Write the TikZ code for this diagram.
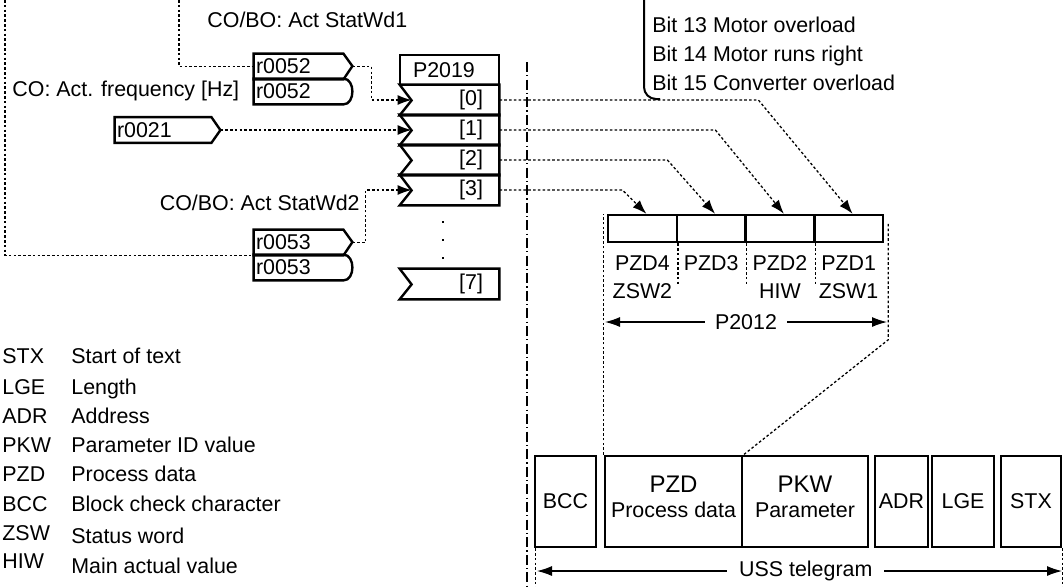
\documentclass[tikz,border=0pt]{standalone}
\usepackage{fontspec}
\setmainfont{Liberation Sans}
\usetikzlibrary{arrows.meta}

\begin{document}
\begin{tikzpicture}[x=0.5pt,y=-0.5pt,
	every node/.style={font=\fontsize{10.7}{12.8}\selectfont,inner sep=0pt},
	frame/.style={line width=1.2pt,line join=miter},
	dots/.style={line width=0.65pt,dash pattern=on 1.3pt off 1.1pt},
	dashdot/.style={line width=0.6pt,dash pattern=on 5pt off 1.6pt on 0.6pt off 1.6pt},
	sig/.style={dots,-{Latex[length=7pt,width=5pt]}},
	dim/.style={line width=0.6pt,{Latex[length=7.5pt,width=5pt]}-{Latex[length=7.5pt,width=5pt]}},
	rbox/.style={minimum width=44.5pt,minimum height=12.5pt,inner xsep=1pt,text width=42.5pt,align=left},
	hdr/.style={draw,frame,minimum width=49.5pt,minimum height=15pt,text width=36.5pt,align=left},
	row/.style={minimum width=49.5pt,minimum height=15pt,text width=33.5pt,align=right},
	cell/.style={draw,frame,minimum width=34.4pt,minimum height=13.5pt},
	tbox/.style={minimum height=45.5pt,align=center}]
	\useasboundingbox (0,0) rectangle (1064,586);

	% signal sources
	\node[rbox] (ra) at (298.5,66.5) {r0052};
	\node[rbox] (rb) at (298.5,91.5) {r0052};
	\node[rbox,minimum width=48pt,text width=46pt] (rf) at (163,130) {r0021};
	\node[rbox] (rc) at (298.5,242.5) {r0053};
	\node[rbox] (rd) at (298.5,267.5) {r0053};
	\draw[frame] (ra.north west) -- (ra.north east) -- ++(9,12.5) -- (ra.south east) -- (ra.south west) -- cycle;
	\draw[frame] (rb.north west) -- (rb.north east) .. controls +(12,0) and +(12,0) .. (rb.south east) -- (rb.south west) -- cycle;
	\draw[frame] (rf.north west) -- (rf.north east) -- ++(9,13) -- (rf.south east) -- (rf.south west) -- cycle;
	\draw[frame] (rc.north west) -- (rc.north east) -- ++(9,12.5) -- (rc.south east) -- (rc.south west) -- cycle;
	\draw[frame] (rd.north west) -- (rd.north east) .. controls +(12,0) and +(12,0) .. (rd.south east) -- (rd.south west) -- cycle;

	\node[anchor=base west] (lw1) at (207,27) {CO/BO: Act StatWd1};
	\node[anchor=base west] (lfr) at (12,96) {CO: Act. frequency [Hz]};
	\node[anchor=base east] (lw2) at (360,210) {CO/BO: Act StatWd2};

	% P2019
	\node[hdr] (hd) at (449.5,70) {P2019};
	\node[row] (p0) at (449.5,100) {[0]};
	\node[row] (p1) at (449.5,130) {[1]};
	\node[row] (p2) at (449.5,160) {[2]};
	\node[row] (p3) at (449.5,190) {[3]};
	\node[row] (p7) at (449.5,284) {[7]};
	\draw[frame] (p0.north west) -- (p0.north east) -- (p0.south east) -- (p0.south west) -- ++(12,-15) -- cycle;
	\draw[frame] (p1.north west) -- (p1.north east) -- (p1.south east) -- (p1.south west) -- ++(12,-15) -- cycle;
	\draw[frame] (p2.north west) -- (p2.north east) -- (p2.south east) -- (p2.south west) -- ++(12,-15) -- cycle;
	\draw[frame] (p3.north west) -- (p3.north east) -- (p3.south east) -- (p3.south west) -- ++(12,-15) -- cycle;
	\draw[frame] (p7.north west) -- (p7.north east) -- (p7.south east) -- (p7.south west) -- ++(12,-15) -- cycle;
	\node[rectangle,fill,inner sep=0.5pt] (dt1) at (443,222) {};
	\node[rectangle,fill,inner sep=0.5pt] (dt2) at (443,240) {};
	\node[rectangle,fill,inner sep=0.5pt] (dt3) at (443,258) {};

	\coordinate (topL) at (5,0);
	\coordinate (topM) at (179,0);
	\draw[dots] (topL) |- (rc.south west);
	\draw[dots] (topM) |- (ra.west);
	\draw[sig] ([xshift=4.5pt]ra.east) -- ++(19,0) |- ([xshift=6pt]p0.west);
	\draw[sig] ([xshift=4.5pt]rf.east) -- ([xshift=6pt]p1.west);
	\draw[sig] ([xshift=4.5pt]rc.east) -- ++(13,0) |- ([xshift=6pt]p3.west);

	\coordinate (sepT) at (527,62);
	\coordinate (sepB) at (527,586);
	\draw[dashdot] (sepT) -- (sepB);

	% status bits
	\node[anchor=base west] (b13) at (652,32) {Bit 13 Motor overload};
	\node[anchor=base west] (b14) at (652,61) {Bit 14 Motor runs right};
	\node[anchor=base west] (b15) at (652,90) {Bit 15 Converter overload};
	\coordinate (brT) at (644,0);
	\coordinate (brB) at (660,99);
	\draw[line width=1pt,rounded corners=6pt] (brT) |- (brB);

	% PZD words
	\node[cell] (z4) at (642.4,228.5) {};
	\node[cell] (z3) at (711.1,228.5) {};
	\node[cell] (z2) at (779.9,228.5) {};
	\node[cell] (z1) at (848.6,228.5) {};
	\draw[sig] (p0.east) -- ++(259,0) -- ([xshift=2pt]z1.north);
	\draw[sig] (p1.east) -- ++(216,0) -- ([xshift=2pt]z2.north);
	\draw[sig] (p2.east) -- ++(168,0) -- ([xshift=2pt]z3.north);
	\draw[sig] (p3.east) -- ++(123,0) -- ([xshift=2pt]z4.north);
	\node[anchor=base] (z4a) at (642.4,270) {PZD4};
	\node[anchor=base] (z4b) at (642.4,298) {ZSW2};
	\node[anchor=base] (z3a) at (711.1,270) {PZD3};
	\node[anchor=base] (z2a) at (779.9,270) {PZD2};
	\node[anchor=base] (z2b) at (779.9,298) {HIW};
	\node[anchor=base] (z1a) at (848.6,270) {PZD1};
	\node[anchor=base] (z1b) at (848.6,298) {ZSW1};
	\draw[dots] (z4.south east) -- ++(0,41);
	\draw[dots] (z3.south east) -- ++(0,41);
	\draw[dots] (z2.south east) -- ++(0,41);

	% USS telegram
	\node[tbox,draw,frame,minimum width=30.5pt] (bcc) at (565.5,501.5) {BCC};
	\node[tbox,draw,frame,minimum width=131.5pt] (tfr) at (736.5,501.5) {};
	\coordinate (tdv) at (742,456);
	\draw[line width=0.6pt] (tdv) -- (tdv |- tfr.south);
	\node[align=center] (tpzd) at (673.5,497) {{\fontsize{12}{14}\selectfont PZD}\\Process data};
	\node[align=center] (tpkw) at (805,497) {{\fontsize{12}{14}\selectfont PKW}\\Parameter};
	\node[tbox,draw,frame,minimum width=26.5pt] (adr) at (901.5,501.5) {ADR};
	\node[tbox,draw,frame,minimum width=31pt] (lge) at (963,501.5) {LGE};
	\node[tbox,draw,frame,minimum width=30pt] (stx) at (1031,501.5) {STX};

	\draw[dots] (tfr.north west) -- (tfr.north west |- z4.north);
	\draw[dots] ([xshift=2pt,yshift=-5pt]z1.north east) -- ++(0,116) -- (tdv);
	\coordinate (p12L) at (605,322);
	\coordinate (p12R) at (887,322);
	\draw[dim] (p12L) -- node[fill=white,inner xsep=5pt] (p12) {P2012} (p12R);

	\draw[dots] ([xshift=1pt]bcc.south west) -- ++(0,39);
	\draw[dots] (stx.south east) -- ++(0,39);
	\coordinate (ussL) at (537,571);
	\coordinate (ussR) at (1062,571);
	\draw[dim] (ussL) -- node[pos=0.512,fill=white,inner xsep=6pt] (uss) {USS telegram} (ussR);

	% legend
	\node[anchor=base west] (aSTX) at (2,363) {STX};
	\node[anchor=base west] (dSTX) at (71,363) {Start of text};
	\node[anchor=base west] (aLGE) at (2,394) {LGE};
	\node[anchor=base west] (dLGE) at (71,394) {Length};
	\node[anchor=base west] (aADR) at (2,423) {ADR};
	\node[anchor=base west] (dADR) at (71,423) {Address};
	\node[anchor=base west] (aPKW) at (2,452) {PKW};
	\node[anchor=base west] (dPKW) at (71,452) {Parameter ID value};
	\node[anchor=base west] (aPZD) at (2,481) {PZD};
	\node[anchor=base west] (dPZD) at (71,481) {Process data};
	\node[anchor=base west] (aBCC) at (2,511) {BCC};
	\node[anchor=base west] (dBCC) at (71,511) {Block check character};
	\node[anchor=base west] (aZSW) at (2,540) {ZSW};
	\node[anchor=base west] (dZSW) at (71,543) {Status word};
	\node[anchor=base west] (aHIW) at (2,568) {HIW};
	\node[anchor=base west] (dHIW) at (71,573) {Main actual value};
\end{tikzpicture}
\end{document}
